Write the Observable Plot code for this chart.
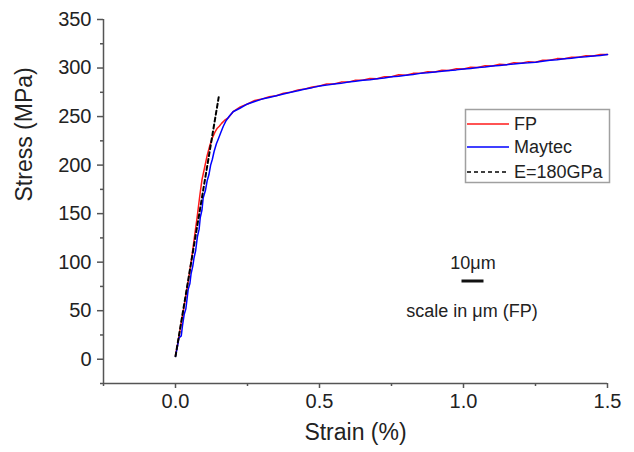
<!DOCTYPE html>
<html>
<head>
<meta charset="utf-8">
<script src="https://cdn.jsdelivr.net/npm/d3@7"></script>
<script src="https://cdn.jsdelivr.net/npm/@observablehq/plot@0.6"></script>
<style>
  html, body { margin: 0; padding: 0; background: #fff; }
  #chart { width: 634px; height: 452px; }
</style>
</head>
<body>
<div id="chart"></div>
<script>
// ---------- data ----------
const fpStrain = [0, 0.01, 0.02, 0.03, 0.035, 0.045, 0.055, 0.065, 0.075, 0.085, 0.092, 0.1, 0.11, 0.12, 0.128, 0.137, 0.145, 0.152, 0.16, 0.17, 0.184,
  0.2, 0.225, 0.25, 0.275, 0.3, 0.325, 0.35, 0.375, 0.4, 0.425, 0.45, 0.475, 0.5, 0.525, 0.55, 0.575, 0.6, 0.625, 0.65, 0.675, 0.7, 0.725, 0.75, 0.775, 0.8, 0.825, 0.85, 0.875, 0.9, 0.925, 0.95, 0.975, 1.0, 1.025, 1.05, 1.075, 1.1, 1.125, 1.15, 1.175, 1.2, 1.225, 1.25, 1.275, 1.3, 1.325, 1.35, 1.375, 1.4, 1.425, 1.45, 1.475, 1.5];
const fpStress = [4, 20, 38, 55, 64, 82, 102, 124, 146, 170, 185, 196, 210, 221, 228, 234, 238, 240, 243, 246, 249,
  255, 260, 263, 266.5, 268, 270.5, 271.5, 274, 275, 277.5, 278.5, 280.5, 281.5, 283.5, 283.5, 285.5, 285.5, 287.5, 287.5, 289.2, 289, 291, 291, 293, 292.5, 294.5, 294.5, 296.2, 296, 297.8, 297.5, 299.3, 299, 300.8, 300.5, 302.3, 302, 303.8, 303.5, 305.4, 305, 306.6, 306, 308, 308, 309.7, 309.5, 311.2, 311, 312.6, 312.5, 314, 314];

const mtStrain = [0, 0.006, 0.012, 0.02, 0.024, 0.03, 0.036, 0.04, 0.044, 0.05, 0.054, 0.06, 0.064, 0.07, 0.076, 0.082, 0.086, 0.092, 0.096, 0.104, 0.11, 0.116, 0.122, 0.128, 0.134, 0.142, 0.15, 0.158, 0.166, 0.176, 0.186,
  0.2, 0.225, 0.25, 0.275, 0.3, 0.325, 0.35, 0.375, 0.4, 0.425, 0.45, 0.475, 0.5, 0.525, 0.55, 0.575, 0.6, 0.625, 0.65, 0.675, 0.7, 0.725, 0.75, 0.775, 0.8, 0.825, 0.85, 0.875, 0.9, 0.925, 0.95, 0.975, 1.0, 1.025, 1.05, 1.075, 1.1, 1.125, 1.15, 1.175, 1.2, 1.225, 1.25, 1.275, 1.3, 1.325, 1.35, 1.375, 1.4, 1.425, 1.45, 1.475, 1.5];
const mtStress = [3, 12, 22, 24, 34, 46, 52, 62, 72, 78, 88, 96, 104, 112, 126, 134, 146, 154, 166, 174, 184, 190, 200, 206, 214, 222, 228, 234, 240, 246, 250,
  255, 258.8, 263, 265.6, 268, 269.6, 271.5, 273.2, 275, 276.6, 278.5, 279.8, 281.5, 282.4, 283.5, 284.2, 285.5, 286.3, 287.5, 288, 289, 289.8, 291, 291.6, 292.5, 293.4, 294.5, 295.1, 296, 296.6, 297.5, 298.1, 299, 299.6, 300.5, 301.1, 302, 302.6, 303.5, 304.1, 305, 305.4, 306, 307, 308, 308.6, 309.5, 310.1, 311, 311.6, 312.5, 313, 314];

const eStrain = [0, 0.15];
const eStress = [3, 270];

const seriesNames = ["FP", "Maytec", "E=180GPa"];
const xMajor = [0, 0.5, 1.0, 1.5];
const xMinor = [-0.25, 0.25, 0.75, 1.25];
const yMajor = [0, 50, 100, 150, 200, 250, 300, 350];
const yMinor = [-25, 25, 75, 125, 175, 225, 275, 325];
const xTitle = "Strain (%)";
const yTitle = "Stress (MPa)";
const scaleLabel = "10μm";
const scaleCaption = "scale in μm (FP)";

// ---------- tables ----------
const fp = fpStrain.map((s, i) => ({strain: s, stress: fpStress[i]}));
const mt = mtStrain.map((s, i) => ({strain: s, stress: mtStress[i]}));
const el = eStrain.map((s, i) => ({strain: s, stress: eStress[i]}));

const axisColor = "#555";
const textColor = "#222";
const font = "'Liberation Sans', Arial, sans-serif";

const chart = Plot.plot({
  width: 634,
  height: 452,
  marginLeft: 103,
  marginRight: 27,
  marginTop: 19,
  marginBottom: 69,
  x: {domain: [-0.25, 1.5]},
  y: {domain: [-25, 350]},
  style: {fontFamily: font, background: "white", overflow: "visible"},
  marks: [
    Plot.axisX(xMinor, {tickSize: 3, text: null, stroke: axisColor, strokeWidth: 1.5, label: null}),
    Plot.axisX(xMajor, {tickSize: 5, tickPadding: 5, fontSize: 20, tickFormat: d => d.toFixed(1), stroke: axisColor, strokeWidth: 1.5, fill: textColor, label: null}),
    Plot.axisY(yMinor, {tickSize: 3, text: null, stroke: axisColor, strokeWidth: 1.5, label: null}),
    Plot.axisY(yMajor, {tickSize: 6, tickPadding: 6, fontSize: 20, stroke: axisColor, strokeWidth: 1.5, fill: textColor, label: null}),
    Plot.ruleX([-0.25], {stroke: axisColor, strokeWidth: 1.5}),
    Plot.ruleY([-25], {stroke: axisColor, strokeWidth: 1.5}),
    Plot.line(fp, {x: "strain", y: "stress", stroke: "#ff1a1a", strokeWidth: 1.5}),
    Plot.line(mt, {x: "strain", y: "stress", stroke: "#0000ff", strokeWidth: 1.5}),
    Plot.line(el, {x: "strain", y: "stress", stroke: "#000", strokeWidth: 2, strokeDasharray: "4,3"}),
    Plot.text([yTitle], {text: d => d, frameAnchor: "left", dx: -79, rotate: -90, fontSize: 23, fill: textColor}),
    Plot.text([xTitle], {text: d => d, frameAnchor: "bottom", dy: 56, fontSize: 23, fill: textColor})
  ]
});

document.getElementById("chart").appendChild(chart);

// ---------- legend & scale annotation ----------
const svg = d3.select(chart);
const lg = svg.append("g").attr("font-family", font).attr("font-size", 18).attr("fill", textColor).attr("text-anchor", "start");
lg.append("rect").attr("x", 465.5).attr("y", 109.5).attr("width", 144).attr("height", 73)
  .attr("fill", "white").attr("stroke", "#a0a0a0").attr("stroke-width", 1.5);
const styles = [
  {stroke: "#ff1a1a", dash: null, w: 1.5},
  {stroke: "#0000ff", dash: null, w: 1.5},
  {stroke: "#000", dash: "4,3", w: 1.5}
];
const rows = [124, 147, 172];
seriesNames.forEach((name, i) => {
  const l = lg.append("line").attr("x1", 467).attr("x2", 509).attr("y1", rows[i]).attr("y2", rows[i])
    .attr("stroke", styles[i].stroke).attr("stroke-width", styles[i].w);
  if (styles[i].dash) l.attr("stroke-dasharray", styles[i].dash);
  lg.append("text").attr("x", 514).attr("y", rows[i]).attr("dy", "0.36em").text(name);
});

const ann = svg.append("g").attr("font-family", font).attr("fill", textColor).attr("text-anchor", "middle");
ann.append("text").attr("x", 473).attr("y", 263).attr("dy", "0.36em").attr("font-size", 18).text(scaleLabel);
ann.append("line").attr("x1", 461.5).attr("x2", 483.5).attr("y1", 281).attr("y2", 281).attr("stroke", "#111").attr("stroke-width", 3);
ann.append("text").attr("x", 472).attr("y", 311).attr("dy", "0.36em").attr("font-size", 18).text(scaleCaption);
</script>
</body>
</html>
